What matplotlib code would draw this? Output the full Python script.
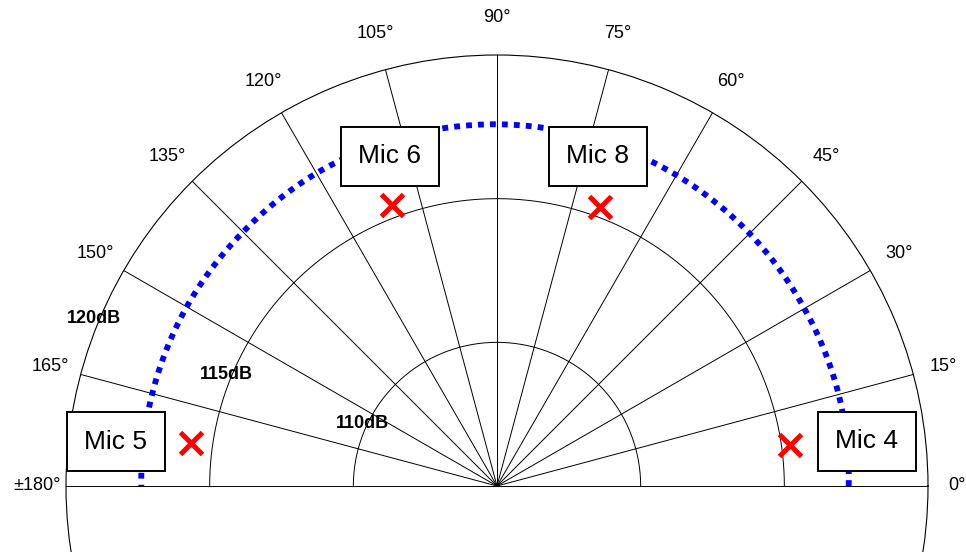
import numpy as np
import matplotlib.pyplot as plt

plt.rcParams['font.family'] = ['Liberation Sans', 'DejaVu Sans']

# measured level around the array (dB) at each bearing
angle_deg = [0, 15, 30, 45, 60, 75, 90, 105, 120, 135, 150, 165, 180]
level_db = [117.24, 117.31, 117.35, 117.43, 117.49, 117.55, 117.59,
            117.59, 117.57, 117.50, 117.47, 117.42, 117.38]

# source positions (bearing, level)
src_deg = [8.0, 69.8, 110.4, 172.0]
src_db = [115.29, 115.34, 115.44, 115.77]

# microphone boxes (label, bearing, radius in dB units)
mic_names = ['Mic 4', 'Mic 8', 'Mic 6', 'Mic 5']
mic_deg = [6.9, 73.0, 108.0, 173.4]
mic_r = [117.97, 117.0, 117.07, 118.36]

ring_db = [110, 115]
ring_labels = ['110dB', '115dB', '120dB']
ring_label_deg = [155.0, 157.6, 157.4]
spoke_deg = list(range(0, 181, 15))
r_min, r_max = 105, 120

fig = plt.figure(figsize=(9.66, 5.52), dpi=100)
fig.patch.set_facecolor('white')
ax = fig.add_axes([66 / 966, (552 - 917) / 552, 862 / 966, 862 / 552],
                  projection='polar')
ax.set_ylim(r_min, r_max)
ax.set_xticks([])
ax.set_yticks([])
ax.grid(False)
ax.spines['polar'].set_linewidth(0.8)
ax.patch.set_alpha(0)

# half rings and spokes
half = np.linspace(0, np.pi, 361)
for r in ring_db:
    ax.plot(half, np.full_like(half, r), color='black', lw=0.7)
for d in spoke_deg:
    t = np.radians(d)
    ax.plot([t, t], [r_min, r_max], color='black', lw=0.7)

# angle labels
for d in spoke_deg:
    if d == 180:
        txt = '\u00b1180\u00b0'
    else:
        txt = '%d\u00b0' % d
    lab_r = 121.0 + 0.3 * np.sin(np.radians(d))
    ax.text(np.radians(d), lab_r, txt, fontsize=13, ha='center',
            va='center', clip_on=False)

# ring labels
for lab, r, d in zip(ring_labels, [110, 115, 120], ring_label_deg):
    ax.text(np.radians(d), r + 0.18, lab, fontsize=13,
            fontweight='bold', ha='center', va='center', clip_on=False)

# measured level
line, = ax.plot(np.radians(angle_deg), level_db, color='#0000ff', lw=4.2,
                linestyle=(0, (1, 1.05)), zorder=3)
line.get_path()._interpolation_steps = 30

# sources
ax.plot(np.radians(src_deg), src_db, linestyle='none', marker='x',
        color='#ff0000', markersize=16, markeredgewidth=3.6, zorder=4)

# microphones
for name, d, r in zip(mic_names, mic_deg, mic_r):
    ax.text(np.radians(d), r, name, fontsize=19, ha='center', va='center',
            zorder=5, clip_on=False,
            bbox=dict(boxstyle='square,pad=0.66', fc='white', ec='black',
                      lw=1.4))

fig.savefig('out.png', dpi=100, facecolor='white')
